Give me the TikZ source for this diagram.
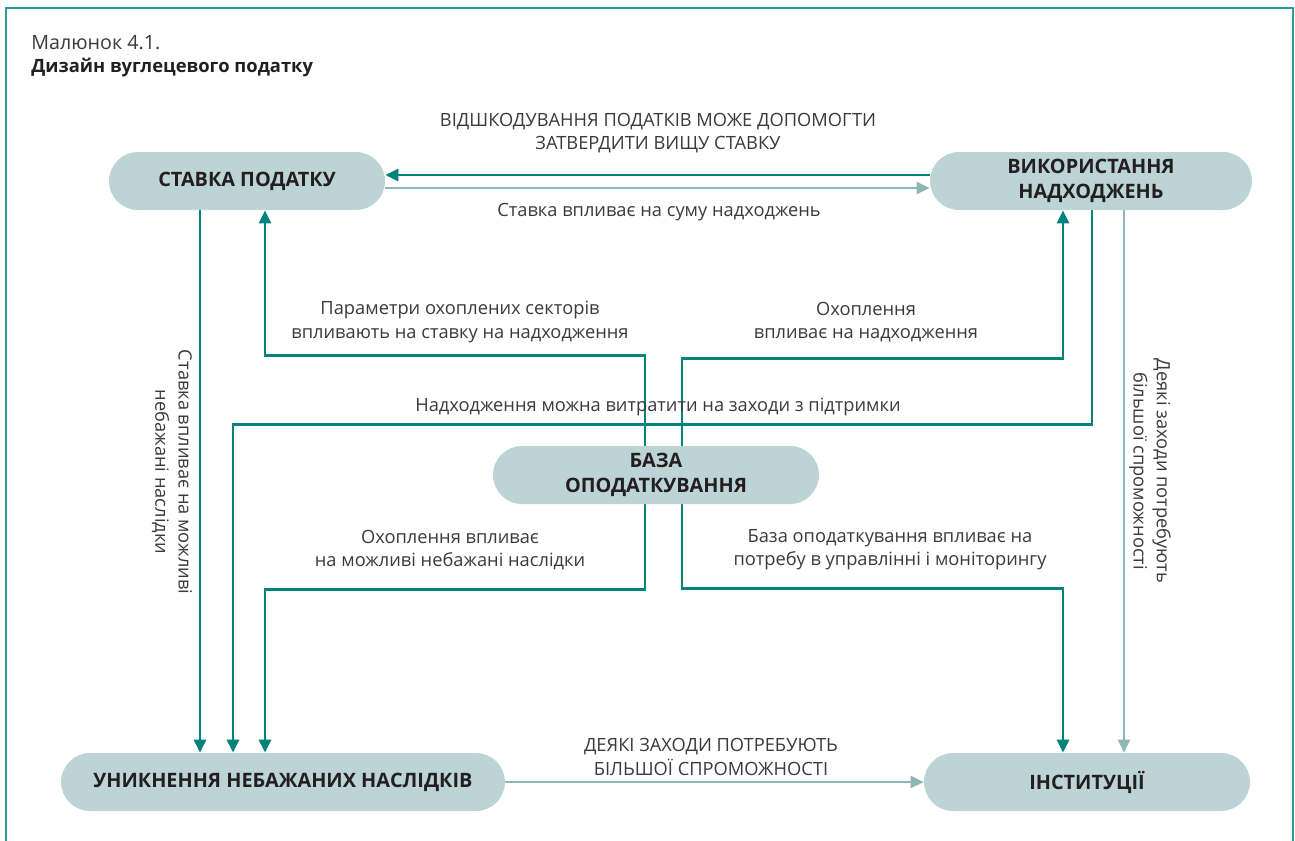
\documentclass[tikz,border=0pt]{standalone}
\usepackage{fontspec}
\setmainfont{Open Sans}
\usetikzlibrary{arrows.meta,calc}
\definecolor{frameC}{HTML}{2A9D9A}
\definecolor{darkC}{HTML}{00837A}
\definecolor{lightC}{HTML}{8DB8B8}
\definecolor{nodeC}{HTML}{BCD4D6}
\definecolor{txtC}{HTML}{3A3A3A}
\definecolor{boldC}{HTML}{231F20}
\tikzset{
  box/.style={fill=nodeC, rounded corners=0.58cm, minimum height=1.16cm, align=center,
    text=boldC, font=\fontsize{11.3}{14.5}\selectfont\bfseries, inner sep=0pt},
  lbl/.style={align=center, text=txtC, font=\fontsize{10.4}{13.2}\selectfont, inner sep=0pt},
  dk/.style={draw=darkC, line width=1.6pt, -{Triangle[length=0.26cm,width=0.24cm]}},
  lt/.style={draw=lightC, line width=1.4pt, -{Triangle[length=0.26cm,width=0.24cm]}},
  frameS/.style={draw=frameC, line width=1.3pt}
}
\begin{document}
\begin{tikzpicture}[x=0.02cm, y=-0.02cm]
\useasboundingbox (0,0) rectangle (1295,840);
\draw[frameS] (6,842) -- (6,8) -- (1293,8) -- (1293,842);

\node[anchor=base west, text=txtC, font=\fontsize{11.2}{13}\selectfont, inner sep=0pt] (fig) at (31,49) {Малюнок 4.1.};
\node[anchor=base west, text=boldC, font=\fontsize{10.45}{13}\selectfont\bfseries, inner sep=0pt] (title) at (31,72) {Дизайн вуглецевого податку};

% node positions
\coordinate (rateC) at (247,181);
\coordinate (usageC) at (1091,181);
\coordinate (baseC) at (656,475);
\coordinate (avoidC) at (283,782);
\coordinate (instC) at (1087,782);

% unfilled anchor frames
\path (rateC) node[box, minimum width=5.52cm, fill=none] (rate) {};
\path (usageC) node[box, minimum width=6.44cm, fill=none] (usage) {};
\path (baseC) node[box, minimum width=6.52cm, fill=none] (base) {};
\path (avoidC) node[box, minimum width=8.88cm, fill=none] (avoid) {};
\path (instC) node[box, minimum width=6.52cm, fill=none] (inst) {};

% connectors
\draw[dk] ($(usage.west)+(0,-6)$) -- ($(rate.east)+(0,-6)$);
\draw[lt] ($(rate.east)+(0,7)$) -- ($(usage.west)+(0,7)$);
\draw[dk] ($(rate.south)+(-47,0)$) -- ($(avoid.north)+(-83,0)$);
\draw[dk] ($(base.north)+(-11,0)$) |- ($(rate.south)+(18,145)$) -- ($(rate.south)+(18,0)$);
\draw[dk] ($(base.north)+(26,0)$) |- ($(usage.south)+(-28,148)$) -- ($(usage.south)+(-28,0)$);
\draw[dk] ($(base.south)+(-11,0)$) |- ($(avoid.north)+(-18,-163)$) -- ($(avoid.north)+(-18,0)$);
\draw[dk] ($(base.south)+(26,0)$) |- ($(inst.north)+(-24,-164)$) -- ($(inst.north)+(-24,0)$);
\draw[dk] ($(usage.south)+(1,0)$) |- ($(avoid.north)+(-50,-328)$) -- ($(avoid.north)+(-50,0)$);
\draw[lt] ($(usage.south)+(33,0)$) -- ($(inst.north)+(37,0)$);
\draw[lt] (avoid.east) -- (inst.west);

% filled nodes on top
\node[box, minimum width=5.52cm] (rateF) at (rateC) {СТАВКА ПОДАТКУ};
\node[box, minimum width=6.44cm] (usageF) at (usageC) {ВИКОРИСТАННЯ\\НАДХОДЖЕНЬ};
\node[box, minimum width=6.52cm] (baseF) at (baseC) {БАЗА\\ОПОДАТКУВАННЯ};
\node[box, minimum width=8.88cm] (avoidF) at (avoidC) {УНИКНЕННЯ НЕБАЖАНИХ НАСЛІДКІВ};
\node[box, minimum width=6.52cm] (instF) at (instC) {ІНСТИТУЦІЇ};

% labels
\node[lbl] (l1) at (658,133) {ВІДШКОДУВАННЯ ПОДАТКІВ МОЖЕ ДОПОМОГТИ\\ЗАТВЕРДИТИ ВИЩУ СТАВКУ};
\node[lbl] (l2) at (659,212) {Ставка впливає на суму надходжень};
\node[lbl] (l3) at (460,322) {Параметри охоплених секторів\\впливають на ставку на надходження};
\node[lbl] (l4) at (866,322) {Охоплення\\впливає на надходження};
\node[lbl] (l5) at (658,407) {Надходження можна витратити на заходи з підтримки};
\node[lbl] (l6) at (450,550) {Охоплення впливає\\на можливі небажані наслідки};
\node[lbl] (l7) at (890,550) {База оподаткування впливає на\\потребу в управлінні і моніторингу};
\node[lbl] (l8) at (711,757) {ДЕЯКІ ЗАХОДИ ПОТРЕБУЮТЬ\\БІЛЬШОЇ СПРОМОЖНОСТІ};
\node[lbl, rotate=-90] (l9) at (172,472) {Ставка впливає на можливі\\небажані наслідки};
\node[lbl, rotate=-90] (l10) at (1150,471) {Деякі заходи потребують\\більшої спроможності};
\end{tikzpicture}
\end{document}
